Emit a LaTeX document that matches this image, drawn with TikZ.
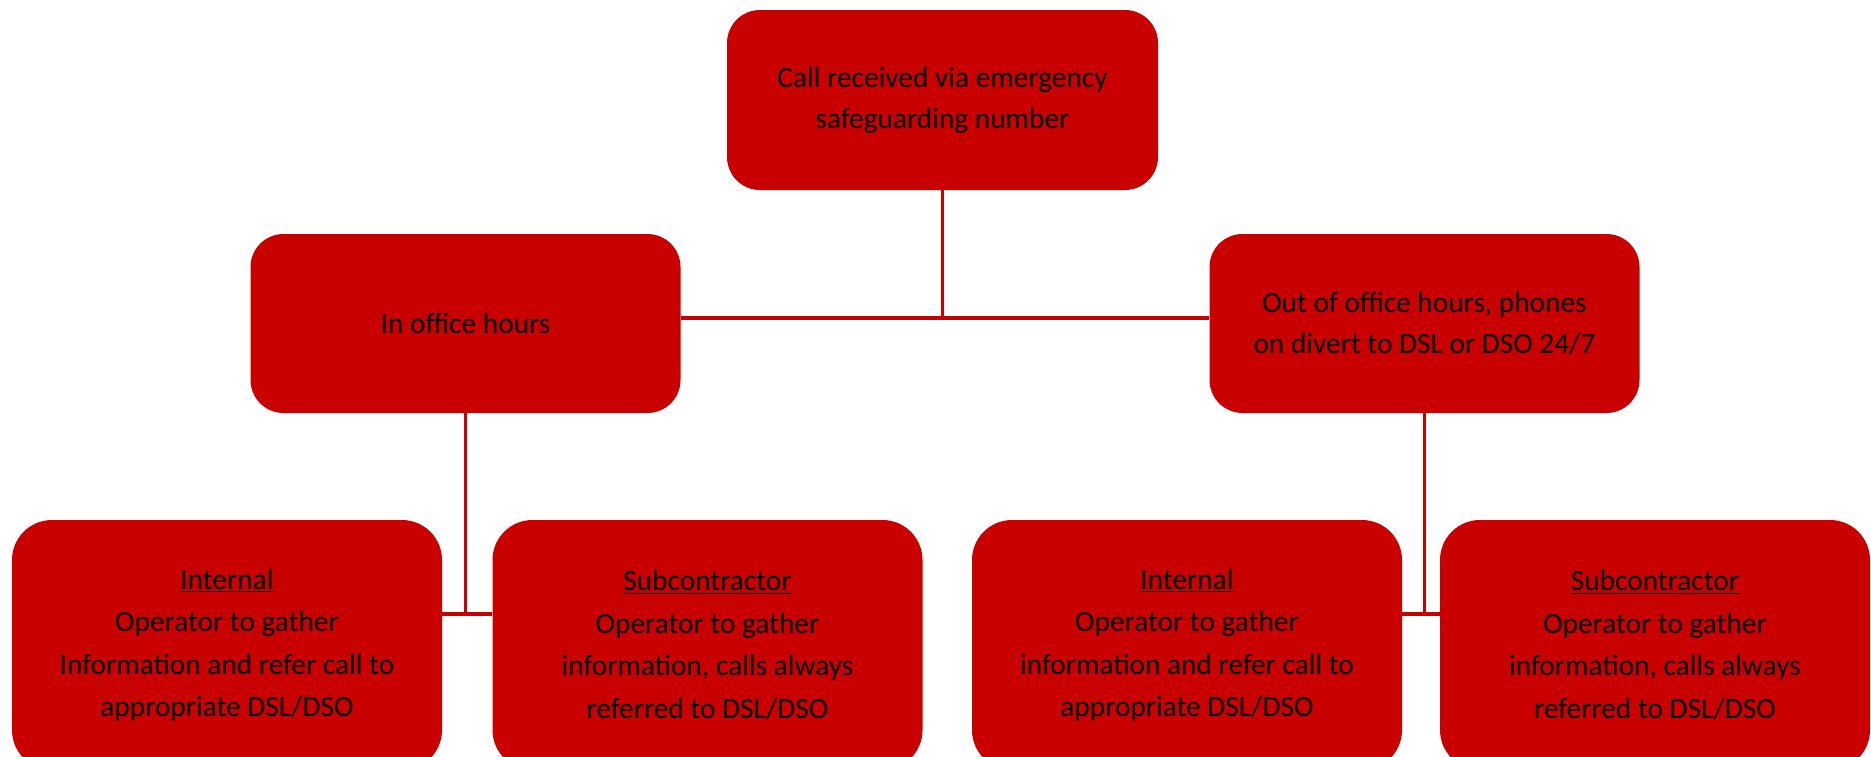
\documentclass[tikz,border=0pt]{standalone}
\usepackage{fontspec}
\setmainfont{Carlito}
\usepackage{tikz}
\usepackage{xcolor}

\definecolor{boxred}{HTML}{C80000}

\tikzset{
	box/.style={fill=boxred, draw=none, rounded corners=0.66cm, align=center,
		minimum width=8.6cm, minimum height=3.6cm, inner sep=0pt,
		font=\fontsize{16.7pt}{23.5pt}\selectfont},
	lowbox/.style={box, rounded corners=0.8cm, minimum height=5.0cm,
		font=\fontsize{16.7pt}{24.2pt}\selectfont},
	link/.style={draw=boxred, line width=2pt}
}

\begin{document}
\begin{tikzpicture}
		
		\useasboundingbox (0,0) rectangle (37.42,-15.12);
		
		% top
		\node [box, minimum width=8.62cm] (call) at (18.85, -2.0) {Call received via emergency\\safeguarding number};
		
		% office hours
		\node [box, minimum height=3.58cm] (inhours) at (9.31, -6.47) {In office hours};
		\node [box, minimum height=3.58cm] (outhours) at (28.49, -6.47) {Out of office hours, phones\\on divert to DSL or DSO 24/7};
		
		% in hours, bottom row
		\node [lowbox] (inint) at (4.54, -12.9) {\underline{Internal}\\Operator to gather\\Information and refer call to\\appropriate DSL/DSO};
		\node [lowbox] (insub) at (14.15, -12.9) {\underline{Subcontractor}\\Operator to gather\\information, calls always\\referred to DSL/DSO};
		
		% out of hours, bottom row
		\node [lowbox] (outint) at (23.74, -12.9) {\underline{Internal}\\Operator to gather\\information and refer call to\\appropriate DSL/DSO};
		\node [lowbox] (outsub) at (33.1, -12.9) {\underline{Subcontractor}\\Operator to gather\\information, calls always\\referred to DSL/DSO};
		
		% bus lines
		\coordinate (topbus) at (call.south |- 0,-6.36);
		\coordinate (inbus) at (inhours.south |- 0,-12.28);
		\coordinate (outbus) at (outhours.south |- 0,-12.28);
		
		% top links
		\draw [link] (call.south) -- (topbus);
		\draw [link] (inhours.east |- topbus) -- (outhours.west |- topbus);
		
		% in hours links
		\draw [link] (inhours.south) -- (inbus);
		\draw [link] (inint.east |- inbus) -- (insub.west |- inbus);
		
		% out of hours links
		\draw [link] (outhours.south) -- (outbus);
		\draw [link] (outint.east |- outbus) -- (outsub.west |- outbus);
		
		\end{tikzpicture}
\end{document}
